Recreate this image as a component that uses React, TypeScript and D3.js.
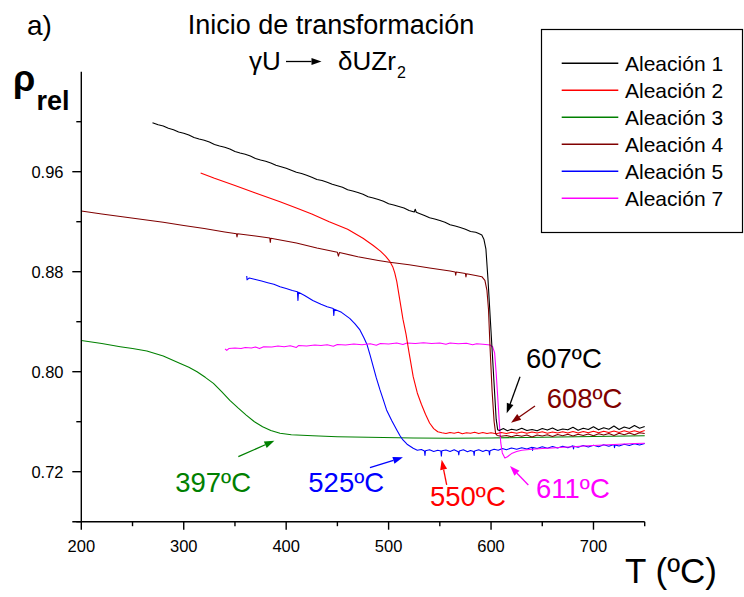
import * as d3 from 'd3';

type Pt = [number, number];

// ---- data: [T (ºC), rho_rel] ----
const alloy1: Pt[] = [
  [269.5, 0.9992], [275, 0.9975], [280, 0.9966], [285, 0.9948], [290, 0.9936], [295, 0.9918],
  [300, 0.9908], [305, 0.9893], [310, 0.9874], [315, 0.9862], [320, 0.9852], [325, 0.9838],
  [330, 0.9818], [335, 0.9806], [340, 0.9796], [345, 0.9782], [350, 0.9762], [355, 0.975],
  [360, 0.974], [365, 0.9726], [370, 0.9706], [375, 0.9694], [380, 0.9684], [385, 0.967],
  [390, 0.9652], [395, 0.964], [400, 0.9628], [405, 0.9612], [410, 0.9596], [415, 0.9586],
  [420, 0.9572], [425, 0.9556], [430, 0.9538], [435, 0.953], [440, 0.9516], [445, 0.9499],
  [450, 0.9488], [455, 0.9476], [460, 0.9456], [465, 0.9445], [470, 0.9434], [475, 0.942],
  [480, 0.9400], [485, 0.939], [490, 0.9378], [495, 0.9364], [500, 0.9344], [505, 0.9334],
  [510, 0.9322], [515, 0.931], [520, 0.929], [525, 0.9278], [526, 0.93], [527, 0.9276],
  [530, 0.9266], [535, 0.925], [540, 0.9232], [545, 0.9222], [550, 0.921], [555, 0.9196],
  [560, 0.9176], [565, 0.9165], [570, 0.9154], [575, 0.914], [580, 0.9122], [585, 0.9115],
  [588, 0.9105], [591, 0.9094], [593, 0.906], [595, 0.898], [597, 0.874], [599, 0.846],
  [601, 0.818], [603, 0.79], [605, 0.762], [606.5, 0.7535], [608, 0.753], [612, 0.7545],
  [616, 0.7528], [620, 0.754], [625, 0.7532], [630, 0.7548], [635, 0.753], [640, 0.7538],
  [645, 0.7527], [650, 0.7545], [655, 0.7533], [660, 0.755], [665, 0.753], [670, 0.7542],
  [675, 0.7535], [680, 0.7555], [685, 0.7532], [690, 0.7548], [695, 0.7538], [700, 0.756],
  [705, 0.7535], [710, 0.7552], [715, 0.754], [720, 0.7565], [725, 0.7538], [730, 0.7558],
  [735, 0.7545], [740, 0.757], [745, 0.7548], [750, 0.7562],
];

const alloy2: Pt[] = [
  [316.5, 0.959], [330, 0.9548], [350, 0.949], [370, 0.943], [394, 0.936], [410, 0.931],
  [425, 0.9262], [442, 0.92], [460, 0.914], [475, 0.9067], [485, 0.901], [492, 0.8965],
  [497, 0.8925], [501, 0.8885], [504, 0.884], [506, 0.879], [508, 0.872], [511, 0.857],
  [514, 0.842], [517, 0.83], [520, 0.815], [524, 0.796], [528, 0.783], [532, 0.774],
  [536, 0.766], [540, 0.759], [544, 0.7545], [548, 0.752], [552, 0.7512], [556, 0.7505],
  [560, 0.7514], [564, 0.7508], [568, 0.7516], [572, 0.7504], [576, 0.7512], [580, 0.7507],
  [584, 0.7515], [588, 0.7505], [592, 0.7513], [596, 0.7506], [600, 0.7512], [605, 0.7504],
  [610, 0.7514], [615, 0.7506], [620, 0.7516], [625, 0.7508], [630, 0.7518], [635, 0.7507],
  [640, 0.7517], [645, 0.7509], [650, 0.7519], [655, 0.7508], [660, 0.7518], [665, 0.751],
  [670, 0.752], [675, 0.7509], [680, 0.7521], [685, 0.751], [690, 0.7522], [695, 0.7511],
  [700, 0.7523], [705, 0.7512], [710, 0.7524], [715, 0.7513], [720, 0.7526], [725, 0.7514],
  [730, 0.7527], [735, 0.7515], [740, 0.7528], [745, 0.7516], [750, 0.7529],
];

const alloy3: Pt[] = [
  [200, 0.825], [210, 0.8238], [220, 0.8225], [238, 0.82], [250, 0.8185], [264, 0.8165],
  [280, 0.8125], [296, 0.8067], [305, 0.8035], [313, 0.8], [321, 0.7955], [329, 0.7907],
  [337, 0.784], [345, 0.777], [353, 0.771], [361, 0.7653], [369, 0.76], [377, 0.756],
  [385, 0.753], [394, 0.7507], [405, 0.7495], [426, 0.7488], [450, 0.748], [480, 0.7475],
  [524, 0.747], [560, 0.7468], [600, 0.747], [650, 0.7476], [700, 0.7482], [750, 0.7488],
];

const alloy4: Pt[] = [
  [200, 0.9285], [220, 0.9262], [240, 0.924], [260, 0.9218], [280, 0.9195], [300, 0.917],
  [320, 0.9145], [340, 0.9118], [351.5, 0.9104], [352, 0.9078], [352.5, 0.9103], [370, 0.9085],
  [384, 0.907], [384.5, 0.9035], [385, 0.9068], [410, 0.903], [430, 0.899], [450, 0.8955],
  [451, 0.8925], [452, 0.8953], [470, 0.892], [490, 0.889], [501, 0.8875], [520, 0.8855],
  [540, 0.883], [560, 0.8805], [565, 0.8798], [565.5, 0.8772], [566, 0.8797], [575, 0.8785],
  [575.5, 0.8758], [576, 0.8783], [585, 0.877], [591, 0.876], [594, 0.873], [596, 0.865],
  [597.5, 0.85], [599, 0.82], [601, 0.785], [603, 0.76], [604.5, 0.7505], [606, 0.749],
  [610, 0.7484], [615, 0.749], [620, 0.748], [625, 0.7492], [630, 0.7483], [635, 0.7494],
  [640, 0.7478], [645, 0.7494], [650, 0.7486], [655, 0.7496], [660, 0.7482], [665, 0.7497],
  [670, 0.7488], [675, 0.7499], [680, 0.7485], [685, 0.75], [690, 0.749], [695, 0.7502],
  [700, 0.7488], [705, 0.7503], [710, 0.7493], [715, 0.7506], [720, 0.749], [725, 0.7507],
  [730, 0.7496], [735, 0.751], [740, 0.7495], [745, 0.7512], [750, 0.7505],
];

const alloy5: Pt[] = [
  [361.5, 0.8765], [361.8, 0.8735], [364, 0.875], [370, 0.8738], [376, 0.8725], [382, 0.8712],
  [388, 0.87], [394, 0.868], [400, 0.8665], [406, 0.865], [411, 0.864], [411.5, 0.857],
  [412, 0.8635], [418, 0.861], [426, 0.857], [434, 0.854], [440, 0.852], [446, 0.8505],
  [446.5, 0.845], [447, 0.85], [454, 0.8475], [462, 0.8427], [467, 0.8385], [472, 0.8334],
  [476, 0.827], [479, 0.8215], [482, 0.813], [485, 0.804], [488, 0.795], [491.6, 0.7854],
  [495, 0.777], [498, 0.7694], [503, 0.761], [508, 0.7534], [511, 0.749], [514, 0.7454],
  [518, 0.742], [524, 0.7387], [528, 0.7372], [532, 0.7378], [535, 0.7366], [535.5, 0.733],
  [536, 0.7368], [540, 0.7375], [544, 0.7362], [548, 0.7372], [551, 0.7366], [551.5, 0.7325],
  [552, 0.7368], [556, 0.7374], [560, 0.7362], [564, 0.7376], [568, 0.736], [568.5, 0.7335],
  [569, 0.7365], [573, 0.7375], [577, 0.736], [580, 0.737], [583, 0.7362], [583.5, 0.733],
  [584, 0.7366], [588, 0.7376], [592, 0.7362], [595, 0.7372], [598, 0.7365], [598.5, 0.7335],
  [599, 0.7368], [603, 0.738], [607, 0.7372], [611, 0.7385], [615, 0.7376], [620, 0.739],
  [625, 0.738], [630, 0.7392], [635, 0.7382], [640, 0.7396], [640.5, 0.737], [641, 0.7394],
  [645, 0.7385], [650, 0.7399], [655, 0.7388], [660, 0.7402], [665, 0.739], [670, 0.7404],
  [675, 0.7392], [680, 0.7407], [680.5, 0.7382], [681, 0.7404], [685, 0.7396], [690, 0.741],
  [695, 0.7398], [700, 0.7412], [705, 0.74], [710, 0.7415], [715, 0.7404], [720, 0.7418],
  [720.5, 0.7392], [721, 0.7414], [725, 0.7406], [730, 0.742], [735, 0.741], [740, 0.7424],
  [745, 0.7414], [750, 0.7426],
];

const alloy7: Pt[] = [
  [340.3, 0.8182], [342, 0.817], [344, 0.8185], [350, 0.819], [356, 0.8186], [360, 0.8194],
  [366, 0.819], [370, 0.8198], [374, 0.8185], [378, 0.82], [386, 0.8198], [392, 0.8205],
  [398, 0.82], [404, 0.8208], [410, 0.8194], [412, 0.8209], [420, 0.8206], [428, 0.8213],
  [434, 0.8209], [440, 0.8216], [446, 0.8204], [450, 0.8218], [458, 0.8214], [466, 0.8221],
  [474, 0.8216], [482, 0.8224], [488, 0.8212], [492, 0.8226], [500, 0.8222], [508, 0.8229],
  [514, 0.8218], [518, 0.823], [526, 0.8226], [534, 0.8232], [542, 0.8226], [550, 0.823],
  [556, 0.822], [560, 0.8229], [568, 0.8224], [576, 0.8227], [582, 0.8216], [586, 0.8224],
  [592, 0.822], [597, 0.8216], [599, 0.8214], [601.5, 0.82], [603.5, 0.815], [605, 0.799],
  [606.5, 0.78], [608, 0.76], [609.5, 0.743], [611, 0.735], [613.5, 0.731], [616, 0.732],
  [620, 0.7345], [625, 0.7362], [630, 0.7372], [640, 0.738], [650, 0.7385], [660, 0.739],
  [670, 0.7396], [680, 0.74], [690, 0.7406], [700, 0.741], [710, 0.7414], [720, 0.7418],
  [730, 0.7422], [740, 0.7425], [750, 0.7428],
];

const seriesNames = ['Aleación 1', 'Aleación 2', 'Aleación 3', 'Aleación 4', 'Aleación 5', 'Aleación 7'];
const seriesData = [alloy1, alloy2, alloy3, alloy4, alloy5, alloy7];
const seriesColors = ['#000000', '#ff0000', '#008000', '#800000', '#0000ff', '#ff00ff'];
// draw order (back to front) as it looks in the figure
const drawOrder = [2, 4, 5, 1, 3, 0];

const xMajor = [200, 300, 400, 500, 600, 700];
const xMinor = [250, 350, 450, 550, 650, 750];
const yMajor = [0.72, 0.8, 0.88, 0.96];
const yMinor = [0.68, 0.76, 0.84, 0.92, 1.0];

// annotation labels: text, colour, label anchor and arrow (tail -> head) in data units
const notes = [
  { text: '397ºC', color: '#008000', at: [291.7, 0.704], from: [353.3, 0.732], to: [388.5, 0.7448] },
  { text: '525ºC', color: '#0000ff', at: [421.6, 0.704], from: [481.8, 0.7232], to: [514, 0.7315] },
  { text: '550ºC', color: '#ff0000', at: [540.4, 0.6925], from: [556.7, 0.7094], to: [551.8, 0.7296] },
  { text: '611ºC', color: '#ff00ff', at: [643.9, 0.6987], from: [636.4, 0.7094], to: [618.5, 0.7245] },
  { text: '607ºC', color: '#000000', at: [634.1, 0.803], from: [628.3, 0.796], to: [615.3, 0.7667] },
  { text: '608ºC', color: '#800000', at: [654.3, 0.7707], from: [642.9, 0.7726], to: [619.5, 0.7592] },
];

const W = 744;
const H = 597;
const font = '"Liberation Sans", Arial, Helvetica, sans-serif';

function Arrow({ x1, y1, x2, y2, color }: { x1: number; y1: number; x2: number; y2: number; color: string }) {
  const a = Math.atan2(y2 - y1, x2 - x1);
  const L = 10;
  const hw = 3.5;
  const bx = x2 - L * Math.cos(a);
  const by = y2 - L * Math.sin(a);
  const pts = [
    [x2, y2],
    [bx - hw * Math.sin(a), by + hw * Math.cos(a)],
    [bx + hw * Math.sin(a), by - hw * Math.cos(a)],
  ];
  return (
    <g>
      <line x1={x1} y1={y1} x2={bx} y2={by} stroke={color} strokeWidth={1.3} />
      <polygon points={pts.map((p) => p.join(',')).join(' ')} fill={color} />
    </g>
  );
}

export default function App() {
  const x = d3.scaleLinear().domain([200, 750]).range([81.3, 644.7]);
  const y = d3.scaleLinear().domain([0.68, 1.04]).range([521.7, 71.7]);
  const line = d3
    .line<Pt>()
    .x((d) => x(d[0]))
    .y((d) => y(d[1]));

  const x0 = x(200);
  const yb = y(0.68);

  return (
    <svg
      width={W}
      height={H}
      style={{ position: 'absolute', left: 0, top: 0, background: '#fff' }}
      fontFamily={font}
    >
      {/* Titles */}
      <text x={27} y={35} fontSize={28}>a)</text>
      <text x={331} y={34} fontSize={27} textAnchor="middle">Inicio de transformación</text>
      <text x={249} y={70} fontSize={26}>γU</text>
      <Arrow x1={286} y1={61.5} x2={321.5} y2={61.5} color="#000" />
      <text x={338} y={70} fontSize={26}>δUZr</text>
      <text x={397} y={78} fontSize={16}>2</text>

      {/* y label */}
      <text x={13} y={91} fontSize={36} fontWeight="bold">ρ</text>
      <text x={36.5} y={110} fontSize={27} fontWeight="bold">rel</text>

      {/* Series */}
      <g fill="none" strokeWidth={1.1} strokeLinejoin="round">
        {drawOrder.map((i) => (
          <path key={seriesNames[i]} d={line(seriesData[i]) ?? ''} stroke={seriesColors[i]} />
        ))}
      </g>

      {/* Axes */}
      <g stroke="#000" strokeWidth={1.4}>
        <line x1={x0} y1={y(1.04)} x2={x0} y2={yb} />
        <line x1={x0 - 9} y1={yb} x2={x(750)} y2={yb} />
        {yMajor.map((v) => (
          <line key={`ym${v}`} x1={x0 - 9} x2={x0} y1={y(v)} y2={y(v)} />
        ))}
        {yMinor.map((v) => (
          <line key={`yn${v}`} x1={x0 - 5} x2={x0} y1={y(v)} y2={y(v)} />
        ))}
        {xMajor.map((v) => (
          <line key={`xm${v}`} x1={x(v)} x2={x(v)} y1={yb} y2={yb + 8} />
        ))}
        {xMinor.map((v) => (
          <line key={`xn${v}`} x1={x(v)} x2={x(v)} y1={yb} y2={yb + 4.5} />
        ))}
      </g>
      <g fontSize={16.5}>
        {yMajor.map((v) => (
          <text key={`yl${v}`} x={63.5} y={y(v) + 6} textAnchor="end">
            {d3.format('.2f')(v)}
          </text>
        ))}
        {xMajor.map((v) => (
          <text key={`xl${v}`} x={x(v)} y={551.5} textAnchor="middle">
            {v}
          </text>
        ))}
      </g>
      <text x={625} y={583} fontSize={35}>T (ºC)</text>

      {/* Annotations */}
      {notes.map((n) => (
        <g key={n.text}>
          <Arrow x1={x(n.from[0])} y1={y(n.from[1])} x2={x(n.to[0])} y2={y(n.to[1])} color={n.color} />
          <text x={x(n.at[0])} y={y(n.at[1])} fontSize={27.5} fill={n.color}>
            {n.text}
          </text>
        </g>
      ))}

      {/* Legend */}
      <rect x={541.5} y={29.5} width={201} height={203} fill="#fff" stroke="#000" strokeWidth={1.2} />
      {seriesNames.map((name, i) => (
        <g key={name} transform={`translate(0, ${63.3 + i * 27})`}>
          <line x1={561.7} x2={618.3} y1={0} y2={0} stroke={seriesColors[i]} strokeWidth={1.4} />
          <text x={625} y={7.5} fontSize={21}>
            {name}
          </text>
        </g>
      ))}
    </svg>
  );
}
